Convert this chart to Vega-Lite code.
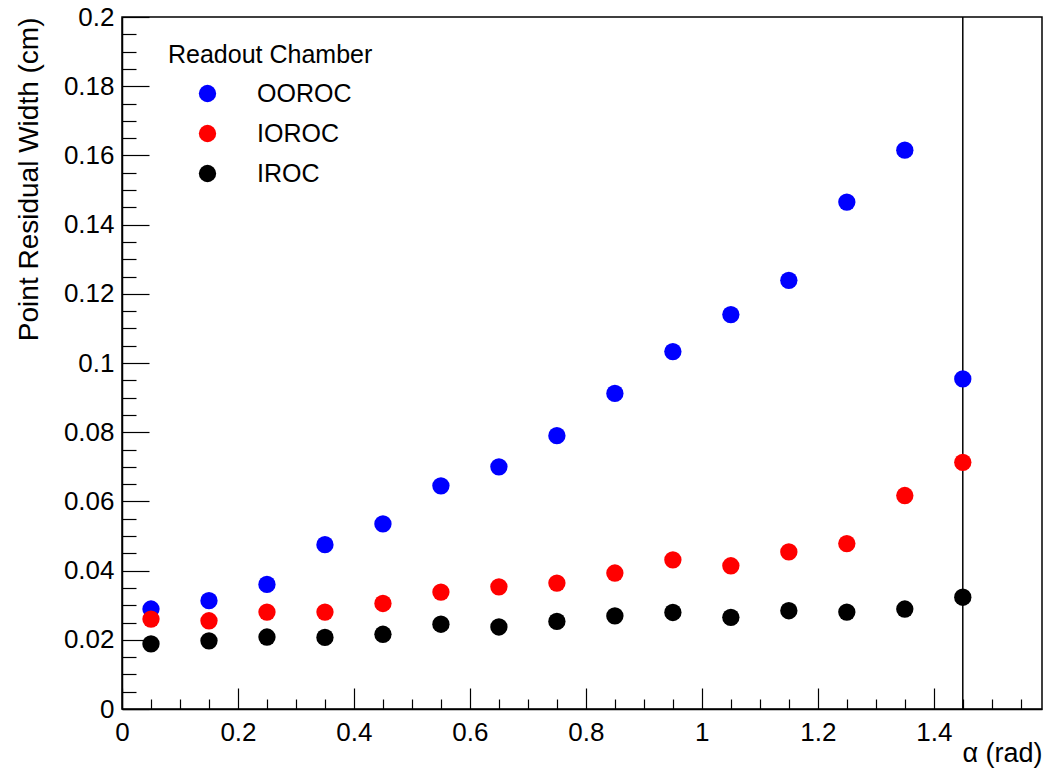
{
  "$schema": "https://vega.github.io/schema/vega-lite/v6.json",
  "autosize": "none",
  "width": 920,
  "height": 692,
  "padding": {"left": 122, "top": 17, "right": 2, "bottom": 63},
  "background": "white",
  "config": {
    "font": "Liberation Sans",
    "view": {"stroke": "#000000", "strokeWidth": 1.5},
    "axis": {"grid": false, "labelFlush": false, "labelOverlap": false, "domainColor": "#000000", "tickColor": "#000000", "labelColor": "#000000", "titleColor": "#000000", "labelFont": "Liberation Sans", "titleFont": "Liberation Sans", "titleFontWeight": "normal", "domainWidth": 1.5, "tickWidth": 1.2}
  },
  "datasets": {
    "points": [
      {"alpha": 0.05, "width": 0.0289, "chamber": "OOROC"},
      {"alpha": 0.15, "width": 0.0313, "chamber": "OOROC"},
      {"alpha": 0.25, "width": 0.0360, "chamber": "OOROC"},
      {"alpha": 0.35, "width": 0.0475, "chamber": "OOROC"},
      {"alpha": 0.45, "width": 0.0535, "chamber": "OOROC"},
      {"alpha": 0.55, "width": 0.0645, "chamber": "OOROC"},
      {"alpha": 0.65, "width": 0.0700, "chamber": "OOROC"},
      {"alpha": 0.75, "width": 0.0790, "chamber": "OOROC"},
      {"alpha": 0.85, "width": 0.0912, "chamber": "OOROC"},
      {"alpha": 0.95, "width": 0.1033, "chamber": "OOROC"},
      {"alpha": 1.05, "width": 0.1140, "chamber": "OOROC"},
      {"alpha": 1.15, "width": 0.1239, "chamber": "OOROC"},
      {"alpha": 1.25, "width": 0.1465, "chamber": "OOROC"},
      {"alpha": 1.35, "width": 0.1615, "chamber": "OOROC"},
      {"alpha": 1.45, "width": 0.0954, "chamber": "OOROC"},
      {"alpha": 0.05, "width": 0.0260, "chamber": "IOROC"},
      {"alpha": 0.15, "width": 0.0255, "chamber": "IOROC"},
      {"alpha": 0.25, "width": 0.0280, "chamber": "IOROC"},
      {"alpha": 0.35, "width": 0.0280, "chamber": "IOROC"},
      {"alpha": 0.45, "width": 0.0305, "chamber": "IOROC"},
      {"alpha": 0.55, "width": 0.0338, "chamber": "IOROC"},
      {"alpha": 0.65, "width": 0.0353, "chamber": "IOROC"},
      {"alpha": 0.75, "width": 0.0364, "chamber": "IOROC"},
      {"alpha": 0.85, "width": 0.0393, "chamber": "IOROC"},
      {"alpha": 0.95, "width": 0.0431, "chamber": "IOROC"},
      {"alpha": 1.05, "width": 0.0414, "chamber": "IOROC"},
      {"alpha": 1.15, "width": 0.0454, "chamber": "IOROC"},
      {"alpha": 1.25, "width": 0.0478, "chamber": "IOROC"},
      {"alpha": 1.35, "width": 0.0617, "chamber": "IOROC"},
      {"alpha": 1.45, "width": 0.0713, "chamber": "IOROC"},
      {"alpha": 0.05, "width": 0.0188, "chamber": "IROC"},
      {"alpha": 0.15, "width": 0.0197, "chamber": "IROC"},
      {"alpha": 0.25, "width": 0.0208, "chamber": "IROC"},
      {"alpha": 0.35, "width": 0.0207, "chamber": "IROC"},
      {"alpha": 0.45, "width": 0.0216, "chamber": "IROC"},
      {"alpha": 0.55, "width": 0.0245, "chamber": "IROC"},
      {"alpha": 0.65, "width": 0.0237, "chamber": "IROC"},
      {"alpha": 0.75, "width": 0.0253, "chamber": "IROC"},
      {"alpha": 0.85, "width": 0.0269, "chamber": "IROC"},
      {"alpha": 0.95, "width": 0.0279, "chamber": "IROC"},
      {"alpha": 1.05, "width": 0.0265, "chamber": "IROC"},
      {"alpha": 1.15, "width": 0.0284, "chamber": "IROC"},
      {"alpha": 1.25, "width": 0.0280, "chamber": "IROC"},
      {"alpha": 1.35, "width": 0.0289, "chamber": "IROC"},
      {"alpha": 1.45, "width": 0.0323, "chamber": "IROC"}
    ],
    "errors": [
      {"alpha": 1.45, "low": -0.5, "high": 0.5, "chamber": "IROC"}
    ]
  },
  "layer": [
    {
      "data": {"name": "errors"},
      "mark": {"type": "rule", "color": "#000000", "strokeWidth": 1.5, "clip": true},
      "encoding": {
        "x": {"field": "alpha", "type": "quantitative",
          "scale": {"domain": [0, 1.5866], "nice": false, "zero": false},
          "axis": {"orient": "bottom", "values": [0.05,0.1,0.15,0.25,0.3,0.35,0.45,0.5,0.55,0.65,0.7,0.75,0.85,0.9,0.95,1.05,1.1,1.15,1.25,1.3,1.35,1.45,1.5,1.55], "tickSize": -10, "labels": false, "domain": false, "title": null}},
        "y": {"field": "low", "type": "quantitative",
          "scale": {"domain": [0, 0.2], "nice": false, "zero": false},
          "axis": {"orient": "left", "values": [0.005,0.01,0.015,0.025,0.03,0.035,0.045,0.05,0.055,0.065,0.07,0.075,0.085,0.09,0.095,0.105,0.11,0.115,0.125,0.13,0.135,0.145,0.15,0.155,0.165,0.17,0.175,0.185,0.19,0.195], "tickSize": -14, "labels": false, "domain": false, "title": null}},
        "y2": {"field": "high"}
      }
    },
    {
      "data": {"name": "points"},
      "mark": {"type": "point", "shape": "circle", "filled": true, "opacity": 1, "size": 300, "strokeWidth": 0},
      "encoding": {
        "x": {"field": "alpha", "type": "quantitative",
          "axis": {"orient": "bottom", "values": [0, 0.2, 0.4, 0.6, 0.8, 1, 1.2, 1.4], "format": "~g", "tickSize": -21, "labelPadding": 31, "labelFontSize": 26, "labelBaseline": "top", "title": "α (rad)", "titleFontSize": 27, "titleAnchor": "end", "titleAlign": "right", "titleBaseline": "alphabetic", "titleX": 920, "titleY": 52}},
        "y": {"field": "width", "type": "quantitative",
          "axis": {"orient": "left", "values": [0, 0.02, 0.04, 0.06, 0.08, 0.1, 0.12, 0.14, 0.16, 0.18, 0.2], "format": "~g", "tickSize": -27, "labelPadding": 35, "labelFontSize": 26, "title": "Point Residual Width (cm)", "titleFontSize": 28, "titleAngle": -90, "titleAnchor": "end", "titleAlign": "right", "titleBaseline": "alphabetic", "titleX": -85, "titleY": 0}},
        "color": {"field": "chamber", "type": "nominal",
          "scale": {"domain": ["OOROC", "IOROC", "IROC"], "range": ["#0000ff", "#ff0000", "#000000"]},
          "legend": {"orient": "none", "legendX": 46, "legendY": 26, "title": "Readout Chamber", "titleLimit": 400, "titleFontSize": 25, "titleFontWeight": "normal", "titleColor": "#000000", "titlePadding": 13, "labelFontSize": 25, "labelColor": "#000000", "symbolType": "circle", "symbolSize": 300, "symbolStrokeWidth": 0, "symbolOffset": 27, "labelOffset": 37, "rowPadding": 14}}
      }
    }
  ],
  "resolve": {"axis": {"x": "independent", "y": "independent"}}
}
